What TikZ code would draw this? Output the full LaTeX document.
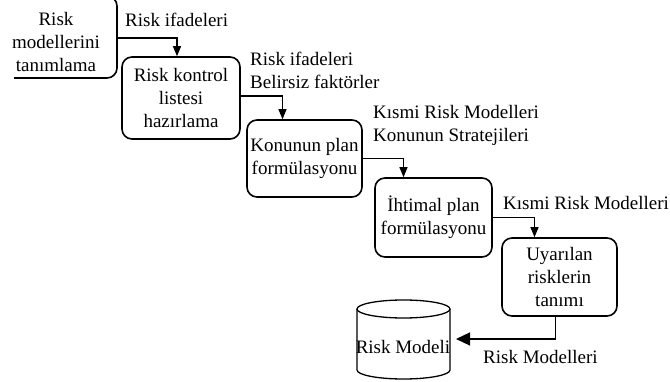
\documentclass[tikz,border=0pt]{standalone}
\usepackage{fontspec}
\setmainfont{Liberation Serif}
\usetikzlibrary{arrows.meta}
\tikzset{
  box/.style={draw, line width=1.6pt, rounded corners=10pt, align=center, inner sep=2pt},
  lbl/.style={align=left, inner sep=0pt, anchor=west},
  flow/.style={line width=1.1pt, -{Triangle[length=10pt,width=8pt]}},
  bigflow/.style={line width=1.1pt, -{Triangle[length=14pt,width=13pt]}},
}
\begin{document}
\begin{tikzpicture}[x=1pt,y=-1pt,font=\fontsize{19}{23}\selectfont]
\useasboundingbox (0,0) rectangle (670,382);
\clip (0,0) rectangle (670,382);
% box 1 (cut off)
\draw[line width=1.6pt, rounded corners=10pt] (14,78) -- (117,78) -- (117,-4) -- (40,-4);
\node[align=center, inner sep=0pt] (b1) at (56,42) {Risk\\modellerini\\tanımlama};
\coordinate (b1e) at (117,38);
% boxes
\node[box, minimum width=118pt, minimum height=82pt] (b2) at (181,98) {Risk kontrol\\listesi\\hazırlama};
\node[box, minimum width=115pt, minimum height=77pt] (b3) at (304.5,158.5) {Konunun plan\\formülasyonu};
\node[box, minimum width=117pt, minimum height=79pt] (b4) at (433.5,217.5) {İhtimal plan\\formülasyonu};
\node[box, minimum width=115pt, minimum height=78pt] (b5) at (559.5,277) {Uyarılan\\risklerin\\tanımı};
% cylinder
\draw[line width=1.3pt] (357,309) -- (357,370) arc[start angle=180, end angle=360, x radius=46.5pt, y radius=9pt] -- (450,309);
\draw[line width=1.3pt] (403.5,309) ellipse[x radius=46.5pt, y radius=9pt];
\node[inner sep=0pt] (cyl) at (403,347) {Risk Modeli};
\coordinate (cyle) at (456,339);
% connectors
\draw[flow] (b1e) -| ([xshift=-4pt]b2.north);
\draw[flow] ([yshift=2pt]b2.east) -| ([xshift=-22pt]b3.north);
\draw[flow] (b3.east) -| ([xshift=-30pt]b4.north);
\draw[flow] (b4.east) -| ([xshift=-25pt]b5.north);
\draw[bigflow] ([xshift=-4pt]b5.south) |- (cyle);
% labels
\node[lbl] (l1) at (125,20) {Risk ifadeleri};
\node[lbl] (l2) at (250,70) {Risk ifadeleri\\Belirsiz faktörler};
\node[lbl] (l3) at (373,125) {Kısmi Risk Modelleri\\Konunun Stratejileri};
\node[lbl] (l4) at (503,203) {Kısmi Risk Modelleri};
\node[lbl] (l5) at (483,357) {Risk Modelleri};
\end{tikzpicture}
\end{document}
